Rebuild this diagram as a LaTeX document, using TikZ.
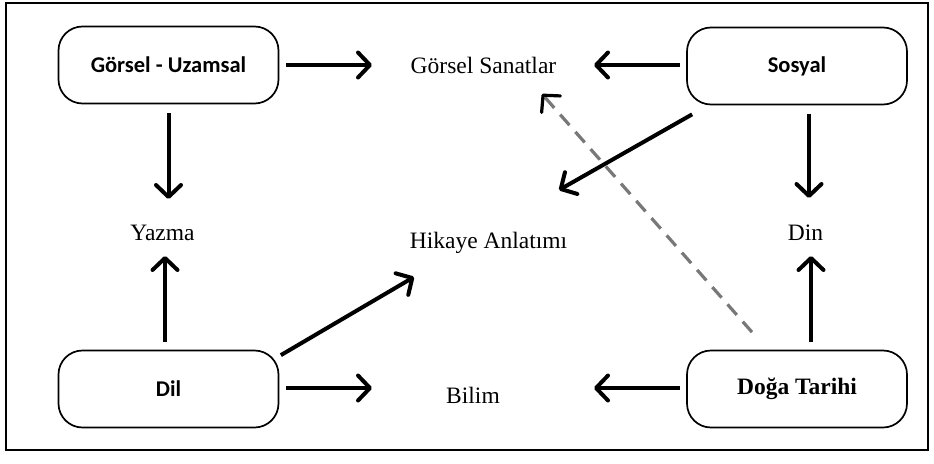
\documentclass[tikz,border=0pt]{standalone}
\usepackage{fontspec}
\setmainfont{Liberation Serif}
\newfontfamily\boxfont{Carlito}
\usetikzlibrary{arrows.meta}
\definecolor{dashgray}{RGB}{120,120,120}
\tikzset{
  catbox/.style={draw, line width=1.7pt, rounded corners=24pt, minimum width=220pt, minimum height=77pt, inner sep=0pt, font=\boxfont\bfseries\fontsize{22.5}{26}\selectfont},
  lbl/.style={anchor=base, inner sep=0pt, font=\fontsize{23.5}{27}\selectfont},
  arr/.style={line width=4pt, -{Straight Barb[length=12pt,width=25pt,round]}},
  darr/.style={line width=3.2pt, dashgray, dash pattern=on 14pt off 9pt, -{Straight Barb[length=12pt,width=25pt,round,color=black]}}
}
\begin{document}
\begin{tikzpicture}[x=1pt,y=-1pt]
\useasboundingbox (0,0) rectangle (934,463);
\draw[line width=1.5pt] (6,3) rectangle (928,450);
% boxes
\node[catbox] (gu) at (168.5,65) {Görsel - Uzamsal};
\node[catbox] (sosyal) at (797,66) {Sosyal};
\node[catbox] (dil) at (168.5,389) {Dil};
\node[catbox, font=\bfseries\fontsize{23.5}{27}\selectfont] (doga) at (797,389) {Doğa Tarihi};
% labels
\node[lbl] (gs) at (483.5,73) {Görsel Sanatlar};
\node[lbl] (yazma) at (162.5,240) {Yazma};
\node[lbl] (ha) at (488.5,248) {Hikaye Anlatımı};
\node[lbl] (din) at (805.5,240) {Din};
\node[lbl] (bilim) at (473,403) {Bilim};
% connectors
\draw[darr] ([shift={(-45,-17.5)}]doga.north) -- ([shift={(58.5,21)}]gs.base);
\draw[arr] ([shift={(7,0)}]gu.east) -- ([shift={(-111.5,-8)}]gs.base);
\draw[arr] ([shift={(0,9)}]gu.south) -- ([shift={(6,-41)}]yazma.base);
\draw[arr] ([shift={(-6,-1)}]sosyal.west) -- ([shift={(110.5,-8)}]gs.base);
\draw[arr] ([shift={(6,9)}]sosyal.south west) -- ([shift={(70.5,-58)}]ha.base);
\draw[arr] ([shift={(12,9)}]sosyal.south) -- ([shift={(3.5,-42)}]din.base);
\draw[arr] ([shift={(-3.5,-7.5)}]dil.north) -- ([shift={(2.5,16)}]yazma.base);
\draw[arr] ([shift={(1.5,5.5)}]dil.north east) -- ([shift={(-74.5,29)}]ha.base);
\draw[arr] ([shift={(7,-1)}]dil.east) -- ([shift={(-101,-15)}]bilim.base);
\draw[arr] ([shift={(-6,-1)}]doga.west) -- ([shift={(121,-15)}]bilim.base);
\draw[arr] ([shift={(14,-7.5)}]doga.north) -- ([shift={(5.5,16)}]din.base);
\end{tikzpicture}
\end{document}
